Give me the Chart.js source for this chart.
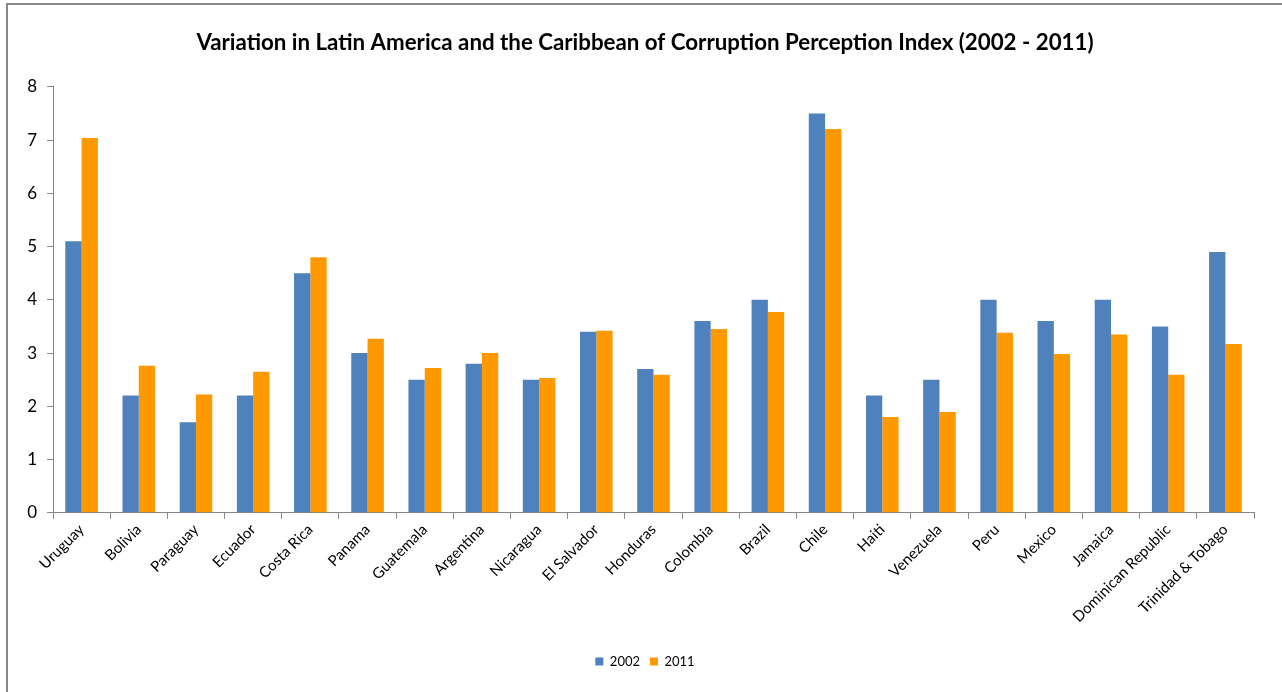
<!DOCTYPE html>
<html>
<head>
<meta charset="utf-8">
<script src="https://cdn.jsdelivr.net/npm/chart.js@4.4.0/dist/chart.umd.min.js"></script>
<style>
  html, body { margin: 0; padding: 0; background: #fff; overflow: hidden; }
  #frame { position: absolute; left: 6px; top: 3px; width: 1300px; height: 720px;
           border-top: 2px solid #878787; border-left: 2px solid #878787; }
  #wrap { position: absolute; left: 0; top: 0; width: 1282px; height: 692px; }
</style>
</head>
<body>
<div id="frame"></div>
<div id="wrap"><canvas id="c" width="1282" height="692"></canvas></div>
<script>
// Corruption Perception Index by country, 2002 vs 2011
const countries = ['Uruguay', 'Bolivia', 'Paraguay', 'Ecuador', 'Costa Rica', 'Panama', 'Guatemala',
  'Argentina', 'Nicaragua', 'El Salvador', 'Honduras', 'Colombia', 'Brazil', 'Chile', 'Haiti',
  'Venezuela', 'Peru', 'Mexico', 'Jamaica', 'Dominican Republic', 'Trinidad & Tobago'];
const cpi2002 = [5.1, 2.2, 1.7, 2.2, 4.5, 3.0, 2.5, 2.8, 2.5, 3.4, 2.7, 3.6, 4.0, 7.5, 2.2, 2.5, 4.0, 3.6, 4.0, 3.5, 4.9];
const cpi2011 = [7.04, 2.76, 2.22, 2.65, 4.8, 3.27, 2.72, 3.0, 2.53, 3.42, 2.59, 3.45, 3.77, 7.21, 1.8, 1.89, 3.38, 2.98, 3.35, 2.59, 3.17];
const seriesNames = ['2002', '2011'];
const yMin = 0, yMax = 8, yStep = 1;

const FONT = 'Lato, "Open Sans", sans-serif';
const AXIS_GREY = '#868686';

new Chart(document.getElementById('c'), {
  type: 'bar',
  data: {
    labels: countries,
    datasets: [
      { label: seriesNames[0], data: cpi2002, backgroundColor: '#4F81BD', yAxisID: 'y' },
      { label: seriesNames[1], data: cpi2011, backgroundColor: '#FF9900', yAxisID: 'y' }
    ]
  },
  options: {
    responsive: false,
    devicePixelRatio: 1,
    animation: false,
    layout: { padding: { left: 8, right: 0, top: 0, bottom: 14 } },
    datasets: { bar: { categoryPercentage: 0.57, barPercentage: 1.0 } },
    plugins: {
      title: {
        display: true,
        text: 'Variation in Latin America and the Caribbean of Corruption Perception Index (2002 - 2011)',
        color: '#000',
        font: { family: FONT, size: 22.3, weight: 'bold' },
        padding: { top: 29, bottom: 31.2 }
      },
      legend: {
        position: 'bottom',
        labels: {
          color: '#000',
          font: { family: FONT, size: 13 },
          boxWidth: 8, boxHeight: 8, padding: 10
        }
      },
      tooltip: { enabled: false }
    },
    scales: {
      x: {
        offset: true,
        grid: { offset: true, drawOnChartArea: false, drawTicks: true, tickLength: 6, color: AXIS_GREY },
        border: { color: AXIS_GREY, width: 1 },
        ticks: {
          color: '#000', font: { family: FONT, size: 15 },
          autoSkip: false, maxRotation: 45, minRotation: 45, padding: 2
        },
        afterFit: (s) => { s.height = 132.3; }
      },
      y: {
        min: yMin, max: yMax,
        grid: { drawOnChartArea: false, drawTicks: true, tickLength: 6, color: AXIS_GREY },
        border: { color: AXIS_GREY, width: 1 },
        ticks: { stepSize: yStep, color: '#000', font: { family: FONT, size: 17 }, padding: 10 },
        afterFit: (s) => { s.width = 45; }
      },
      // empty right-hand gutter so the plot ends short of the canvas edge
      gutter: {
        type: 'linear', position: 'right', min: 0, max: 1,
        grid: { display: false }, border: { display: false }, ticks: { display: false },
        afterFit: (s) => { s.width = 28; }
      }
    }
  }
});
</script>
</body>
</html>
